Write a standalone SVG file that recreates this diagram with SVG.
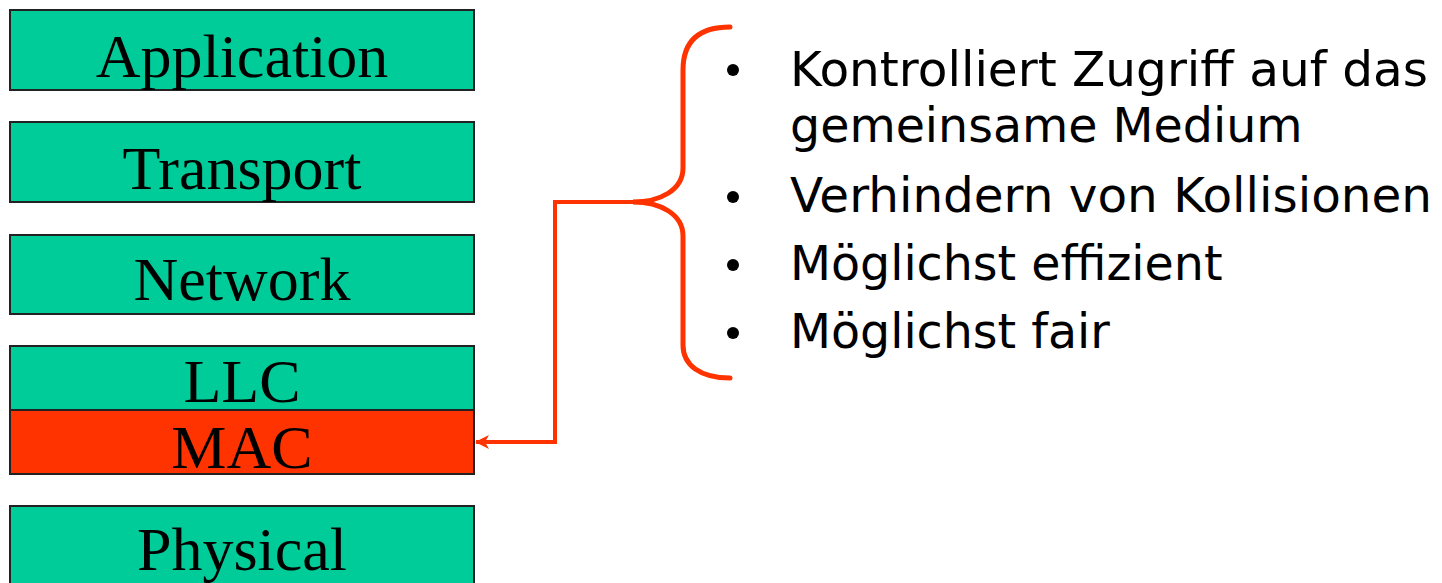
<svg xmlns="http://www.w3.org/2000/svg" width="1442" height="583" viewBox="0 0 1442 583">
  <style>
    .layer { fill: #00CC99; stroke: #222; stroke-width: 2; }
    .mac { fill: #FF3300; stroke: #222; stroke-width: 2; }
    .lbl { font-family: "Liberation Serif", "Times New Roman", serif; font-size: 62px; fill: #000; text-anchor: middle; }
    .item { font-family: "DejaVu Sans", Verdana, sans-serif; font-size: 47.5px; fill: #000; }
    .wire { fill: none; stroke: #FF3300; stroke-width: 4; }
    .brace { fill: none; stroke: #FF3300; stroke-width: 5; stroke-linecap: round; }
  </style>
  <defs>
    <marker id="arrow" markerWidth="14" markerHeight="14" refX="13" refY="7" orient="auto" markerUnits="userSpaceOnUse" viewBox="0 0 14 14">
      <path d="M0,0 L14,7 L0,14 L4,7 Z" fill="#FF3300"/>
    </marker>
  </defs>

  <!-- protocol stack -->
  <g id="application">
    <rect class="layer" x="10" y="10" width="464" height="80"/>
    <text class="lbl" x="242" y="77">Application</text>
  </g>
  <g id="transport">
    <rect class="layer" x="10" y="122" width="464" height="80"/>
    <text class="lbl" x="242" y="189">Transport</text>
  </g>
  <g id="network">
    <rect class="layer" x="10" y="235" width="464" height="79"/>
    <text class="lbl" x="242" y="300">Network</text>
  </g>
  <g id="llc">
    <rect class="layer" x="10" y="346" width="464" height="64"/>
    <text class="lbl" x="242" y="402">LLC</text>
  </g>
  <g id="mac">
    <rect class="mac" x="10" y="410" width="464" height="64"/>
    <text class="lbl" x="242" y="468">MAC</text>
  </g>
  <g id="physical">
    <rect class="layer" x="10" y="506" width="464" height="90"/>
    <text class="lbl" x="242" y="570">Physical</text>
  </g>

  <!-- MAC tasks -->
  <g id="tasks">
    <path class="brace" d="M730,27 C700,27 683,40 683,70 L683,168 C683,190 660,202 633,202 C660,202 683,214 683,236 L683,345 C683,365 700,378 730,378"/>
    <circle cx="733" cy="70" r="6"/>
    <circle cx="733" cy="197" r="6"/>
    <circle cx="733" cy="265" r="6"/>
    <circle cx="733" cy="333" r="6"/>
    <text class="item" x="790" y="86" textLength="638" lengthAdjust="spacingAndGlyphs">Kontrolliert Zugriff auf das</text>
    <text class="item" x="790" y="142">gemeinsame Medium</text>
    <text class="item" x="790" y="212" textLength="642" lengthAdjust="spacingAndGlyphs">Verhindern von Kollisionen</text>
    <text class="item" x="790" y="280">Möglichst effizient</text>
    <text class="item" x="790" y="348">Möglichst fair</text>
  </g>

  <g id="connectors">
    <path class="wire" d="M633,202 L555,202 L555,442 L476,442" marker-end="url(#arrow)"/>
  </g>
</svg>
